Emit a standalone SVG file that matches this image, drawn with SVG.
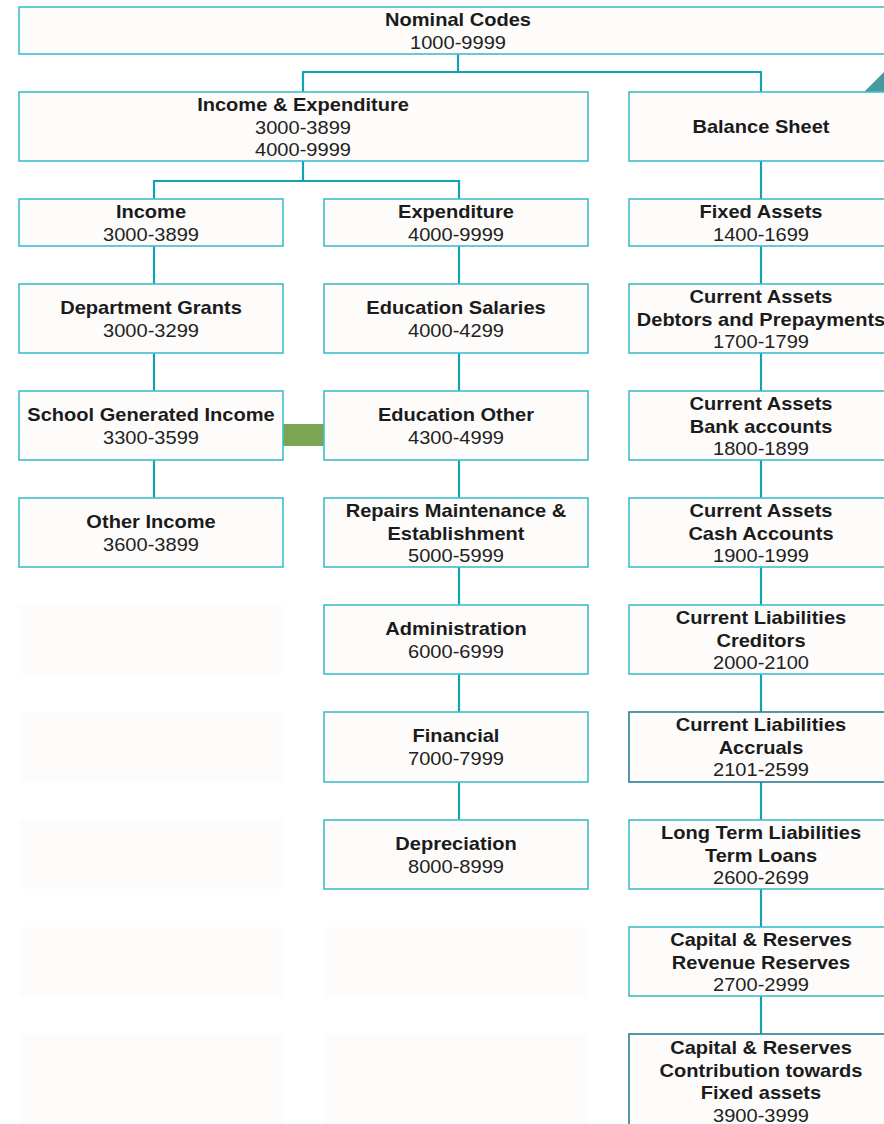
<svg xmlns="http://www.w3.org/2000/svg" width="884" height="1124" viewBox="0 0 884 1124">
  <style>
    .box { fill: #fdfcfb; stroke: #3ebfcc; stroke-width: 1.6; }
    .box.dark { stroke: #2c7d98; }
    .ghost { fill: #fdfcfb; stroke: none; }
    .conn { fill: none; stroke: #13a2b4; stroke-width: 2.2; }
    text { font-family: "Liberation Sans", Arial, sans-serif; font-size: 18px; text-anchor: middle; fill: #222;
           transform-box: fill-box; transform-origin: center; transform: scaleX(1.115); }
    .b { font-weight: bold; fill: #1b1b1b; }
  </style>

  <rect width="884" height="1124" fill="#ffffff"/>

  <!-- decorative corner tab -->
  <polygon points="864,92 884,72 884,92" fill="#4898a1"/>

  <!-- empty placeholder cells -->
  <g id="placeholders">
    <rect class="ghost" x="19" y="605" width="264" height="69"/>
    <rect class="ghost" x="19" y="712" width="264" height="70"/>
    <rect class="ghost" x="19" y="820" width="264" height="69"/>
    <rect class="ghost" x="19" y="927" width="264" height="69"/>
    <rect class="ghost" x="19" y="1034" width="264" height="90"/>
    <rect class="ghost" x="324" y="927" width="264" height="69"/>
    <rect class="ghost" x="324" y="1034" width="264" height="90"/>
  </g>

  <g id="connectors">
    <path class="conn" d="M458,54 V72 M303,92 V72 H761 V92"/>
    <path class="conn" d="M303,161 V181 M154,199 V181 H459 V199"/>
    <path class="conn" d="M154,246 V284 M154,353 V391 M154,460 V498"/>
    <path class="conn" d="M459,246 V284 M459,353 V391 M459,460 V498 M459,567 V605 M459,674 V712 M459,782 V820"/>
    <path class="conn" d="M761,161 V199 M761,246 V284 M761,353 V391 M761,460 V498 M761,567 V605 M761,674 V712 M761,782 V820 M761,889 V927 M761,996 V1034"/>
    <rect x="283" y="424" width="41" height="22" fill="#7aa653"/>
  </g>

  <g id="nominal-codes">
    <rect class="box" x="19" y="7" width="880" height="47"/>
    <text class="b" x="458" y="26.5">Nominal Codes</text>
    <text x="458" y="49">1000-9999</text>
  </g>

  <g id="income-expenditure">
    <rect class="box" x="19" y="92" width="569" height="69"/>
    <text class="b" x="303" y="111">Income &amp; Expenditure</text>
    <text x="303" y="134">3000-3899</text>
    <text x="303" y="156">4000-9999</text>
  </g>

  <g id="balance-sheet">
    <rect class="box" x="629" y="92" width="270" height="69"/>
    <text class="b" x="761" y="133.5">Balance Sheet</text>
  </g>

  <!-- income column -->
  <g id="income">
    <rect class="box" x="19" y="199" width="264" height="47"/>
    <text class="b" x="151" y="218.5">Income</text>
    <text x="151" y="241">3000-3899</text>
  </g>
  <g id="department-grants">
    <rect class="box" x="19" y="284" width="264" height="69"/>
    <text class="b" x="151" y="314">Department Grants</text>
    <text x="151" y="337">3000-3299</text>
  </g>
  <g id="school-generated-income">
    <rect class="box" x="19" y="391" width="264" height="69"/>
    <text class="b" x="151" y="421">School Generated Income</text>
    <text x="151" y="444">3300-3599</text>
  </g>
  <g id="other-income">
    <rect class="box" x="19" y="498" width="264" height="69"/>
    <text class="b" x="151" y="528">Other Income</text>
    <text x="151" y="551">3600-3899</text>
  </g>

  <!-- expenditure column -->
  <g id="expenditure">
    <rect class="box" x="324" y="199" width="264" height="47"/>
    <text class="b" x="456" y="218.5">Expenditure</text>
    <text x="456" y="241">4000-9999</text>
  </g>
  <g id="education-salaries">
    <rect class="box" x="324" y="284" width="264" height="69"/>
    <text class="b" x="456" y="314">Education Salaries</text>
    <text x="456" y="337">4000-4299</text>
  </g>
  <g id="education-other">
    <rect class="box" x="324" y="391" width="264" height="69"/>
    <text class="b" x="456" y="421">Education Other</text>
    <text x="456" y="444">4300-4999</text>
  </g>
  <g id="repairs-maintenance">
    <rect class="box" x="324" y="498" width="264" height="69"/>
    <text class="b" x="456" y="517.5">Repairs Maintenance &amp;</text>
    <text class="b" x="456" y="540">Establishment</text>
    <text x="456" y="562.5">5000-5999</text>
  </g>
  <g id="administration">
    <rect class="box" x="324" y="605" width="264" height="69"/>
    <text class="b" x="456" y="635.5">Administration</text>
    <text x="456" y="658.5">6000-6999</text>
  </g>
  <g id="financial">
    <rect class="box" x="324" y="712" width="264" height="70"/>
    <text class="b" x="456" y="742.5">Financial</text>
    <text x="456" y="765.5">7000-7999</text>
  </g>
  <g id="depreciation">
    <rect class="box" x="324" y="820" width="264" height="69"/>
    <text class="b" x="456" y="850.5">Depreciation</text>
    <text x="456" y="873.5">8000-8999</text>
  </g>

  <!-- balance sheet column -->
  <g id="fixed-assets">
    <rect class="box" x="629" y="199" width="270" height="47"/>
    <text class="b" x="761" y="218.5">Fixed Assets</text>
    <text x="761" y="241">1400-1699</text>
  </g>
  <g id="debtors-prepayments">
    <rect class="box" x="629" y="284" width="270" height="69"/>
    <text class="b" x="761" y="303">Current Assets</text>
    <text class="b" x="761" y="326">Debtors and Prepayments</text>
    <text x="761" y="348">1700-1799</text>
  </g>
  <g id="bank-accounts">
    <rect class="box" x="629" y="391" width="270" height="69"/>
    <text class="b" x="761" y="410">Current Assets</text>
    <text class="b" x="761" y="433">Bank accounts</text>
    <text x="761" y="455">1800-1899</text>
  </g>
  <g id="cash-accounts">
    <rect class="box" x="629" y="498" width="270" height="69"/>
    <text class="b" x="761" y="517">Current Assets</text>
    <text class="b" x="761" y="540">Cash Accounts</text>
    <text x="761" y="562">1900-1999</text>
  </g>
  <g id="creditors">
    <rect class="box" x="629" y="605" width="270" height="69"/>
    <text class="b" x="761" y="624">Current Liabilities</text>
    <text class="b" x="761" y="647">Creditors</text>
    <text x="761" y="669">2000-2100</text>
  </g>
  <g id="accruals">
    <rect class="box dark" x="629" y="712" width="270" height="70"/>
    <text class="b" x="761" y="731.5">Current Liabilities</text>
    <text class="b" x="761" y="754.5">Accruals</text>
    <text x="761" y="776.5">2101-2599</text>
  </g>
  <g id="term-loans">
    <rect class="box" x="629" y="820" width="270" height="69"/>
    <text class="b" x="761" y="839">Long Term Liabilities</text>
    <text class="b" x="761" y="862">Term Loans</text>
    <text x="761" y="884">2600-2699</text>
  </g>
  <g id="revenue-reserves">
    <rect class="box" x="629" y="927" width="270" height="69"/>
    <text class="b" x="761" y="946">Capital &amp; Reserves</text>
    <text class="b" x="761" y="969">Revenue Reserves</text>
    <text x="761" y="991">2700-2999</text>
  </g>
  <g id="contribution-fixed-assets">
    <rect class="box dark" x="629" y="1034" width="270" height="100"/>
    <text class="b" x="761" y="1054">Capital &amp; Reserves</text>
    <text class="b" x="761" y="1077">Contribution towards</text>
    <text class="b" x="761" y="1099">Fixed assets</text>
    <text x="761" y="1122">3900-3999</text>
  </g>
</svg>
